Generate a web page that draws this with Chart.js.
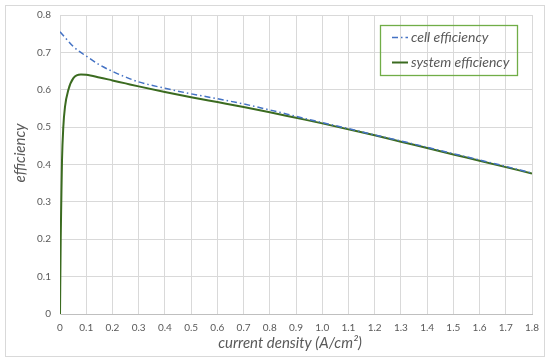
<!DOCTYPE html>
<html>
<head>
<meta charset="utf-8">
<script src="https://cdn.jsdelivr.net/npm/chart.js@4/dist/chart.umd.min.js"></script>
<style>
  html, body { margin: 0; padding: 0; background: #fff; }
  #wrap { width: 550px; height: 364px; position: relative; }
</style>
</head>
<body>
<div id="wrap"><canvas id="chart" width="550" height="364"></canvas></div>
<script>
// values
const cellJ = [0, 0.025, 0.05, 0.075, 0.1, 0.15, 0.2, 0.25, 0.3, 0.4, 0.5, 0.6, 0.7, 0.8, 0.9, 1.0, 1.1, 1.2, 1.3, 1.4, 1.5, 1.6, 1.7, 1.8];
const cellEff = [0.755, 0.735, 0.716, 0.702, 0.69, 0.667, 0.649, 0.634, 0.621, 0.604, 0.589, 0.576, 0.562, 0.546, 0.529, 0.512, 0.496, 0.479, 0.463, 0.446, 0.429, 0.412, 0.395, 0.377];

const sysJ = [0, 0.0027, 0.005, 0.0076, 0.0126, 0.019, 0.032, 0.051, 0.08, 0.1, 0.15, 0.2, 0.25, 0.3, 0.4, 0.5, 0.6, 0.7, 0.8, 0.9, 1.0, 1.1, 1.2, 1.3, 1.4, 1.5, 1.6, 1.7, 1.8];
const sysEff = [0, 0.2, 0.305, 0.41, 0.5, 0.554, 0.6, 0.631, 0.641, 0.64, 0.633, 0.625, 0.617, 0.609, 0.594, 0.58, 0.567, 0.554, 0.54, 0.525, 0.51, 0.494, 0.478, 0.461, 0.444, 0.427, 0.41, 0.393, 0.376];

const xTicks = [0, 0.1, 0.2, 0.3, 0.4, 0.5, 0.6, 0.7, 0.8, 0.9, 1, 1.1, 1.2, 1.3, 1.4, 1.5, 1.6, 1.7, 1.8];
const yTicks = [0, 0.1, 0.2, 0.3, 0.4, 0.5, 0.6, 0.7, 0.8];

const xTitle = "current density (A/cm²)";
const yTitle = "efficiency";

const FONT = "Lato, 'Open Sans', sans-serif";
const GRID = "#d9d9d9";
const TXT = "#595959";

const toPts = (xs, ys) => xs.map((x, i) => ({ x: x, y: ys[i] }));

// border, axis titles and boxed legend
const decor = {
  id: "decor",
  beforeDraw(chart) {
    const c = chart.ctx;
    c.save();
    c.fillStyle = "#fff";
    c.fillRect(0, 0, chart.width, chart.height);
    c.strokeStyle = "#d9d9d9";
    c.lineWidth = 1;
    c.strokeRect(5.5, 5.5, 539, 351);
    c.restore();
  },
  afterDraw(chart) {
    const c = chart.ctx;
    const a = chart.chartArea;
    c.save();
    c.fillStyle = TXT;
    c.font = "italic 15px " + FONT;
    c.textAlign = "center";
    c.textBaseline = "middle";
    c.fillText(xTitle, (a.left + a.right) / 2 - 6, 343);
    c.translate(20, 153);
    c.rotate(-Math.PI / 2);
    c.fillText(yTitle, 0, 0);
    c.restore();

    // legend box
    c.save();
    c.strokeStyle = "#70ad47";
    c.lineWidth = 1.3;
    c.strokeRect(380.5, 25.5, 137, 50);
    c.font = "italic 14px " + FONT;
    c.textBaseline = "middle";
    c.fillStyle = TXT;
    const rows = [37.5, 62.5];
    chart.data.datasets.forEach((ds, i) => {
      const y = rows[i];
      c.beginPath();
      c.strokeStyle = ds.borderColor;
      c.lineWidth = ds.borderWidth;
      c.setLineDash(ds.borderDash || []);
      c.moveTo(392, y);
      c.lineTo(408, y);
      c.stroke();
      c.setLineDash([]);
      c.fillText(ds.label, 411, y);
    });
    c.restore();
  }
};

new Chart(document.getElementById("chart"), {
  type: "line",
  data: {
    datasets: [
      {
        label: "cell efficiency",
        data: toPts(cellJ, cellEff),
        borderColor: "#4472c4",
        borderWidth: 1.5,
        borderDash: [6, 3, 1.5, 3],
        pointRadius: 0,
        cubicInterpolationMode: "monotone",
        fill: false
      },
      {
        label: "system efficiency",
        data: toPts(sysJ, sysEff),
        borderColor: "#3b6b20",
        borderWidth: 2,
        pointRadius: 0,
        cubicInterpolationMode: "monotone",
        fill: false
      }
    ]
  },
  options: {
    responsive: false,
    animation: false,
    layout: { padding: { left: 8, right: 18, top: 15, bottom: 8 } },
    plugins: { legend: { display: false }, tooltip: { enabled: false } },
    scales: {
      x: {
        type: "linear",
        min: 0,
        max: 1.8,
        afterBuildTicks: s => { s.ticks = xTicks.map(v => ({ value: v })); },
        afterFit: s => { s.height = 42; },
        grid: { color: GRID, drawTicks: false },
        border: { color: "#bfbfbf" },
        ticks: { color: TXT, padding: 8, maxRotation: 0, autoSkip: false, font: { family: FONT, size: 10 } }
      },
      y: {
        min: 0,
        max: 0.8,
        afterBuildTicks: s => { s.ticks = yTicks.map(v => ({ value: v })); },
        afterFit: s => { s.width = 52; },
        grid: { color: GRID, drawTicks: false },
        border: { color: GRID },
        ticks: { color: TXT, padding: 9, font: { family: FONT, size: 10 } }
      }
    }
  },
  plugins: [decor]
});
</script>
</body>
</html>
